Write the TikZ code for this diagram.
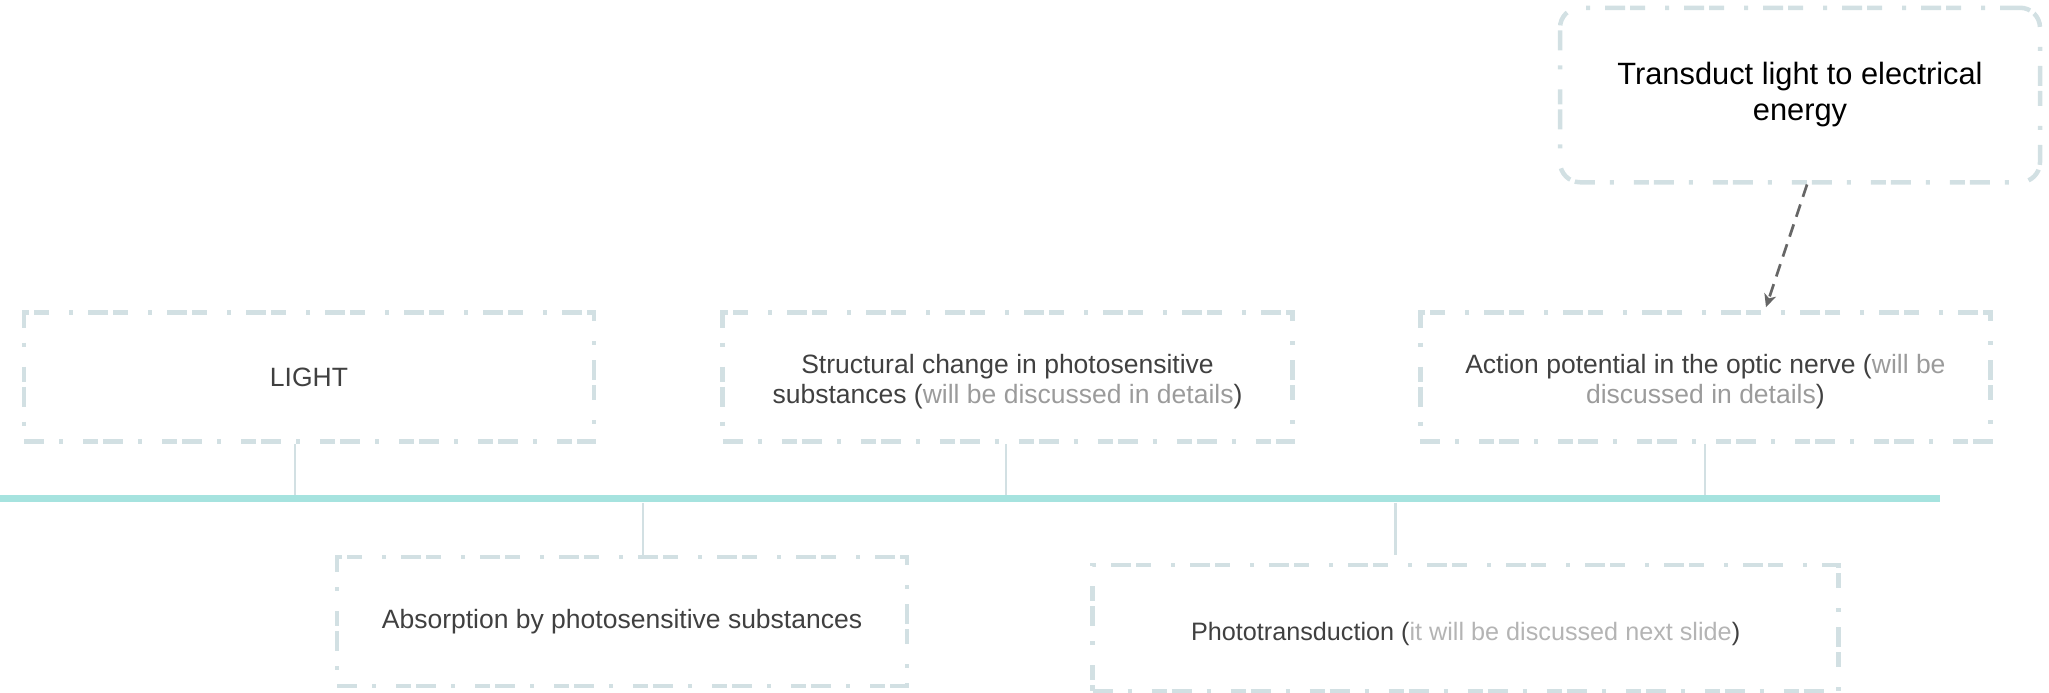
\documentclass[tikz,border=0pt]{standalone}
\usepackage{fontspec}
\setmainfont{Liberation Sans}
\usetikzlibrary{arrows.meta}

\definecolor{framecol}{HTML}{D2E0E3}
\definecolor{timecol}{HTML}{A6E3DF}
\definecolor{inkcol}{HTML}{404040}
\definecolor{notecol}{HTML}{9B9B9B}
\definecolor{notelight}{HTML}{B4B4B4}
\definecolor{arrowcol}{HTML}{666666}

% strut that lowers the text block inside its frame
\newcommand{\lowerstrut}{\rule{0pt}{14.7pt}}

\begin{document}
\begin{tikzpicture}[x=0.5pt,y=-0.5pt,
  framed/.style={draw=framecol, line width=2.25pt,
    dash pattern=on 10pt off 7.5pt on 2pt off 10pt on 7.5pt off 2.5pt},
  stepbox/.style={framed, minimum width=285pt, minimum height=64.5pt,
    inner sep=0pt, align=center, text=inkcol,
    font=\fontsize{13.25pt}{15pt}\selectfont},
  goalbox/.style={framed, rounded corners=10pt, minimum width=240pt,
    minimum height=87.25pt, inner sep=0pt, align=center, text=black,
    font=\fontsize{15.4pt}{18pt}\selectfont},
  stem/.style={draw=framecol, line width=1.35pt},
  timeline/.style={draw=timecol, line width=3.5pt},
  flow/.style={draw=arrowcol, line width=1.35pt, dash pattern=on 6.5pt off 4pt,
    -{Stealth[length=6.5pt,width=6pt,inset=1.8pt]}}
]
\useasboundingbox (0,0) rectangle (2049,692);

% main time axis
\coordinate (axisL) at (0,498.5);
\coordinate (axisR) at (1940,498.5);
\draw[timeline] (axisL) -- (axisR);

% upper row of stages
\node[stepbox] (light) at (309,377) {LIGHT};
\node[stepbox] (struct) at (1007.5,377)
  {\lowerstrut Structural change in photosensitive\\
   substances ({\color{notecol}will be discussed in details})};
\node[stepbox] (action) at (1705.4,377)
  {\lowerstrut Action potential in the optic nerve ({\color{notecol}will be}\\
   {\color{notecol}discussed in details})};

% lower row of stages
\node[stepbox] (absorb) at (622,621.5) {Absorption by photosensitive substances};
\node[stepbox, minimum width=373pt, minimum height=63pt,
      font=\fontsize{12.6pt}{15pt}\selectfont] (photo) at (1465.6,628)
  {\lowerstrut Phototransduction ({\color{notelight}it will be discussed next slide})};

% summary box
\node[goalbox] (goal) at (1800,95) {Transduct light to electrical\\ energy};

% stems joining the stages to the axis
\coordinate (a1) at (295,494.5);
\coordinate (a2) at (1006,494.5);
\coordinate (a3) at (1705,494.5);
\coordinate (b1) at (643,502.5);
\coordinate (b2) at (1395.6,502.5);
\coordinate (b2end) at (1395.6,555);
\draw[stem] (a1 |- light.south) -- (a1);
\draw[stem] (a2 |- struct.south) -- (a2);
\draw[stem] (a3 |- action.south) -- (a3);
\draw[stem] (b1) -- (b1 |- absorb.north);
\draw[stem] (b2) -- (b2end);

% dashed arrow from the summary down to the last stage
\draw[flow] ([xshift=3.5pt]goal.south) -- ([xshift=30.3pt,yshift=1.5pt]action.north);
\end{tikzpicture}
\end{document}
